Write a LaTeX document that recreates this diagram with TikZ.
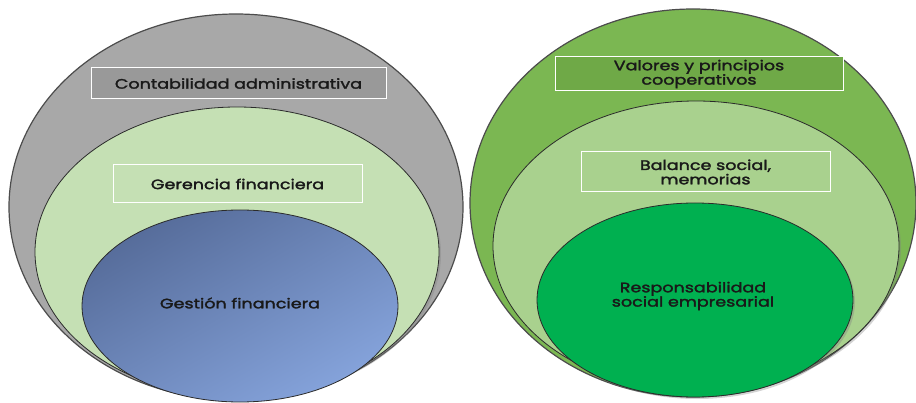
\documentclass[tikz,border=0pt]{standalone}
\usepackage{fontspec}
\setmainfont{Poppins}[FakeStretch=1.28, FakeBold=2]
\usetikzlibrary{shadows}
\definecolor{grisext}{HTML}{A8A8A8}
\definecolor{grisbox}{HTML}{999999}
\definecolor{verdeclaro}{HTML}{C5E0B4}
\definecolor{azuloscuro}{HTML}{566C9A}
\definecolor{azulclaro}{HTML}{85A3DB}
\definecolor{verdeext}{HTML}{7BB752}
\definecolor{verdebox}{HTML}{6FA947}
\definecolor{verdemedio}{HTML}{A9D18E}
\definecolor{verdeint}{HTML}{00B050}
\definecolor{borde}{HTML}{2B2B2B}
\tikzset{
  capa/.style={draw=borde, line width=0.8pt},
  sombra/.style={drop shadow={shadow xshift=2pt, shadow yshift=-2pt, opacity=0.35}},
  caja/.style={draw=white, line width=1pt, align=center, inner sep=2pt},
  etiqueta/.style={font=\fontsize{13.7}{14.3}\selectfont, text=black!90, align=center}
}
\begin{document}
\begin{tikzpicture}[x=1pt,y=-1pt]
    \useasboundingbox (0,0) rectangle (916,403);
    % izquierda
    \fill[grisext] (236,207) ellipse [x radius=227pt, y radius=193pt];
    \draw[capa, draw=black!70, line width=1.2pt] (236,207) ellipse [x radius=227pt, y radius=193pt];
    \draw[capa, fill=verdeclaro, sombra] (237,252) ellipse [x radius=202pt, y radius=145pt];
    \shade[left color=azuloscuro, right color=azulclaro, shading angle=30]
      (240,306) ellipse [x radius=158pt, y radius=96pt];
    \draw[capa] (240,306) ellipse [x radius=158pt, y radius=96pt];
    \node[caja, fill=grisbox, minimum width=295pt, minimum height=31pt] (contab) at (238.5,83.5) {};
    \node[etiqueta] at (contab) {Contabilidad administrativa};
    \node[caja, fill=verdeclaro, minimum width=249pt, minimum height=38pt] (gerencia) at (237.5,184) {};
    \node[etiqueta] at (gerencia) {Gerencia financiera};
    \node[etiqueta] (gestion) at (240,303) {Gestión financiera};
    % derecha
    \fill[verdeext] (693,203) ellipse [x radius=223pt, y radius=194pt];
    \draw[capa, draw=black!70, line width=1.2pt] (693,203) ellipse [x radius=223pt, y radius=194pt];
    \draw[capa, fill=verdemedio, sombra] (696,246) ellipse [x radius=203pt, y radius=145pt];
    \draw[capa, fill=verdeint, sombra] (695,300) ellipse [x radius=158pt, y radius=97pt];
    \node[caja, fill=verdebox, minimum width=288pt, minimum height=34pt] (valores) at (699,74) {};
    \node[etiqueta] at (valores) {Valores y principios\\cooperativos};
    \node[caja, fill=verdemedio, minimum width=249pt, minimum height=40pt] (balance) at (705.5,172) {};
    \node[etiqueta] at (balance) {Balance social,\\memorias};
    \node[etiqueta] (rse) at (693,296) {Responsabilidad\\social empresarial};
  \end{tikzpicture}
\end{document}
